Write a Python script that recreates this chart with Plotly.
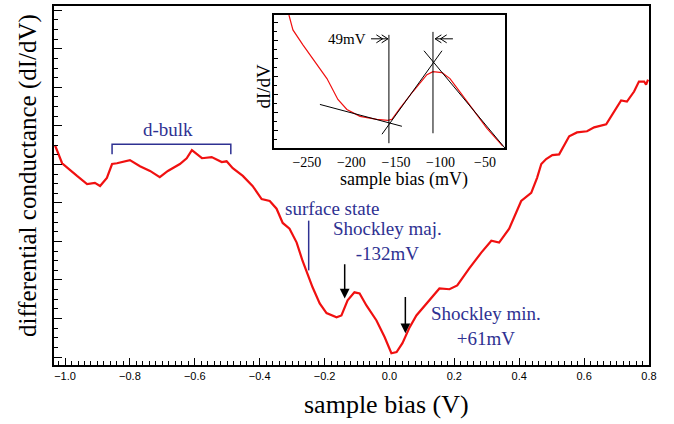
import plotly.graph_objects as go

# ---- main spectrum (sample bias in V, dI/dV arb. units) ----
bias_V = [-1.031, -1.009, -0.963, -0.932, -0.908, -0.892, -0.871, -0.855, -0.840, -0.800,
          -0.769, -0.738, -0.708, -0.683, -0.646, -0.625, -0.609, -0.594, -0.578, -0.548,
          -0.517, -0.502, -0.483, -0.452, -0.422, -0.394, -0.369, -0.348, -0.329, -0.308,
          -0.286, -0.268, -0.237, -0.215, -0.194, -0.163, -0.148, -0.129, -0.108, -0.092,
          -0.071, -0.040, -0.015, 0.006, 0.022, 0.040, 0.062, 0.083, 0.114, 0.154,
          0.185, 0.209, 0.246, 0.283, 0.314, 0.338, 0.369, 0.406, 0.437, 0.455,
          0.468, 0.483, 0.502, 0.523, 0.554, 0.578, 0.609, 0.631, 0.668, 0.683,
          0.714, 0.732, 0.754, 0.769, 0.785, 0.791, 0.797]
dIdV = [5.50, 5.03, 4.70, 4.49, 4.52, 4.44, 4.65, 5.01, 5.03, 5.11,
        4.95, 4.83, 4.67, 4.83, 5.01, 5.16, 5.37, 5.26, 5.16, 5.19,
        5.06, 5.08, 4.90, 4.70, 4.44, 4.10, 4.05, 3.85, 3.48, 3.33,
        2.97, 2.50, 1.81, 1.39, 1.14, 1.03, 1.08, 1.47, 1.68, 1.65,
        1.34, 0.95, 0.52, 0.10, 0.13, 0.36, 0.77, 1.08, 1.39, 1.78,
        1.76, 1.86, 2.30, 2.71, 3.02, 2.97, 3.33, 4.05, 4.26, 4.65,
        5.01, 5.14, 5.24, 5.26, 5.73, 5.83, 5.86, 5.96, 6.04, 6.25,
        6.66, 6.63, 6.89, 7.15, 7.15, 7.07, 7.20]

# ---- inset spectrum (sample bias in mV) ----
inset_mV = [-270.2, -265.7, -254.5, -238.8, -227.5, -215.2, -205.1, -190.4, -171.3, -159.0,
            -154.5, -145.5, -130.9, -115.2, -108.4, -98.3, -89.3, -70.2, -47.8, -30.0]
inset_dIdV = [134, 119, 104, 84, 70, 49, 39, 32, 29, 28,
              29, 40, 57, 74, 77, 76, 70, 47, 20, 2]

# tangent lines in inset
fit1_x = [-235.4, -143.3]; fit1_y = [44, 22]
fit2_x = [-165.7, -98.3];  fit2_y = [14, 98]
fit3_x = [-118.5, -27.5];  fit3_y = [98, 0]
vline1_x = [-157.9, -157.9]; vline1_y = [5, 114]
vline2_x = [-108.4, -108.4]; vline2_y = [15, 117]

x_ticks = [-1.0, -0.8, -0.6, -0.4, -0.2, 0.0, 0.2, 0.4, 0.6, 0.8]
x_ticklabels = ["\u22121.0", "\u22120.8", "\u22120.6", "\u22120.4", "\u22120.2", "0.0", "0.2", "0.4", "0.6", "0.8"]
inset_ticks = [-250, -200, -150, -100, -50]

BLUE = "#2e3192"
RED = "#f01010"
SERIF = "Liberation Serif, Times New Roman, serif"
SANS = "Liberation Sans, Arial, sans-serif"

fig = go.Figure()
fig.add_trace(go.Scatter(x=bias_V, y=dIdV, mode="lines",
                         line=dict(color=RED, width=2.2), xaxis="x", yaxis="y"))
fig.add_trace(go.Scatter(x=inset_mV, y=inset_dIdV, mode="lines",
                         line=dict(color=RED, width=1.2), xaxis="x2", yaxis="y2"))
for fx, fy in [(fit1_x, fit1_y), (fit2_x, fit2_y), (fit3_x, fit3_y),
               (vline1_x, vline1_y), (vline2_x, vline2_y)]:
    fig.add_trace(go.Scatter(x=fx, y=fy, mode="lines",
                             line=dict(color="black", width=1), xaxis="x2", yaxis="y2"))

shapes = []
# d-bulk bracket
shapes.append(dict(type="path", xref="x", yref="y",
                   path="M -0.855 5.26 L -0.855 5.52 L -0.489 5.52 L -0.489 5.26",
                   line=dict(color=BLUE, width=1.5)))
# surface state marker
shapes.append(dict(type="line", xref="x", yref="y", x0=-0.249, x1=-0.249, y0=2.25, y1=3.54,
                   line=dict(color=BLUE, width=1.5)))
# inset double-chevron arrows
shapes.append(dict(type="path", xref="x2", yref="y2",
                   path="M -178 110 L -159 110 M -166 114 L -159 110 L -166 106 M -172 114 L -165 110 L -172 106",
                   line=dict(color="black", width=1)))
shapes.append(dict(type="path", xref="x2", yref="y2",
                   path="M -86 110 L -106 110 M -99 114 L -106 110 L -99 106 M -93 114 L -100 110 L -93 106",
                   line=dict(color="black", width=1)))

annotations = [
    dict(x=-0.683, y=5.91, xref="x", yref="y", text="d-bulk", showarrow=False,
         font=dict(family=SERIF, size=19, color=BLUE)),
    dict(x=-0.178, y=3.85, xref="x", yref="y", text="surface state", showarrow=False,
         font=dict(family=SERIF, size=19, color=BLUE)),
    dict(x=-0.006, y=3.02, xref="x", yref="y", text="Shockley maj.<br>-132mV", showarrow=False,
         font=dict(family=SERIF, size=19, color=BLUE)),
    dict(x=0.298, y=0.80, xref="x", yref="y", text="Shockley min.<br>+61mV", showarrow=False,
         font=dict(family=SERIF, size=19, color=BLUE)),
    dict(x=-0.138, y=1.52, ax=-0.138, ay=2.45, xref="x", yref="y", axref="x", ayref="y",
         text="", showarrow=True, arrowhead=2, arrowsize=1.3, arrowwidth=1.5, arrowcolor="black"),
    dict(x=0.049, y=0.62, ax=0.049, ay=1.60, xref="x", yref="y", axref="x", ayref="y",
         text="", showarrow=True, arrowhead=2, arrowsize=1.3, arrowwidth=1.5, arrowcolor="black"),
    dict(x=-205, y=110, xref="x2", yref="y2", text="49mV", showarrow=False,
         font=dict(family=SERIF, size=15, color="black")),
]
# pixel-positioned texts (axis titles, inset titles)
W, H = 674, 424
L, R, T, B = 54, 25, 4, 59
pixel_texts = [
    (386, 405, "sample bias (V)", 0, 26),
    (28, 175, "differential conductance (dI/dV)", -90, 25),
    (404, 178, "sample bias (mV)", 0, 18),
    (264, 85, "dI/dV", -90, 19),
]
for px, py, txt, ang, sz in pixel_texts:
    annotations.append(dict(x=(px - L) / (W - L - R), y=(H - B - py) / (H - T - B),
                            xref="paper", yref="paper", text=txt, showarrow=False,
                            textangle=ang, font=dict(family=SERIF, size=sz, color="black")))
for a in annotations:
    a["xanchor"] = "center"
    a["yanchor"] = "middle"

fig.update_layout(
    width=W, height=H,
    margin=dict(l=L, r=R, t=T, b=B),
    paper_bgcolor="white", plot_bgcolor="white",
    showlegend=False,
    shapes=shapes, annotations=annotations,
    xaxis=dict(domain=[0, 1], range=[-1.034, 0.8], tickvals=x_ticks, ticktext=x_ticklabels,
               ticks="inside", ticklen=7, tickwidth=1.2, tickcolor="black",
               minor=dict(dtick=0.02, tick0=0, ticks="inside", ticklen=4, tickcolor="black"),
               showline=True, linewidth=2, linecolor="black", mirror=True,
               showgrid=False, zeroline=False,
               tickfont=dict(family=SANS, size=11, color="black")),
    yaxis=dict(domain=[0, 1], range=[-0.206, 9.11], dtick=1, tick0=0,
               ticks="inside", ticklen=8, tickwidth=1.2, tickcolor="black",
               minor=dict(dtick=0.25, tick0=0, ticks="inside", ticklen=4, tickcolor="black"),
               showticklabels=False,
               showline=True, linewidth=2, linecolor="black", mirror=True,
               showgrid=False, zeroline=False),
    xaxis2=dict(domain=[0.3697, 0.758], anchor="y2", range=[-287, -27.5],
                tickvals=inset_ticks, ticks="", showline=True, linewidth=1.5,
                linecolor="black", mirror=True, showgrid=False, zeroline=False,
                tickfont=dict(family=SERIF, size=14, color="black")),
    yaxis2=dict(domain=[0.604, 0.975], anchor="x2", range=[0, 134], dtick=18, tick0=0,
                ticks="inside", ticklen=4, tickcolor="black",
                minor=dict(dtick=9, ticks="inside", ticklen=3, tickcolor="black"),
                showticklabels=False, showline=True, linewidth=1.5, linecolor="black",
                mirror=True, showgrid=False, zeroline=False),
)

fig.write_html("out.html", config={"displayModeBar": False},
               post_script="document.body.style.margin='0px';document.body.style.padding='0px';")
